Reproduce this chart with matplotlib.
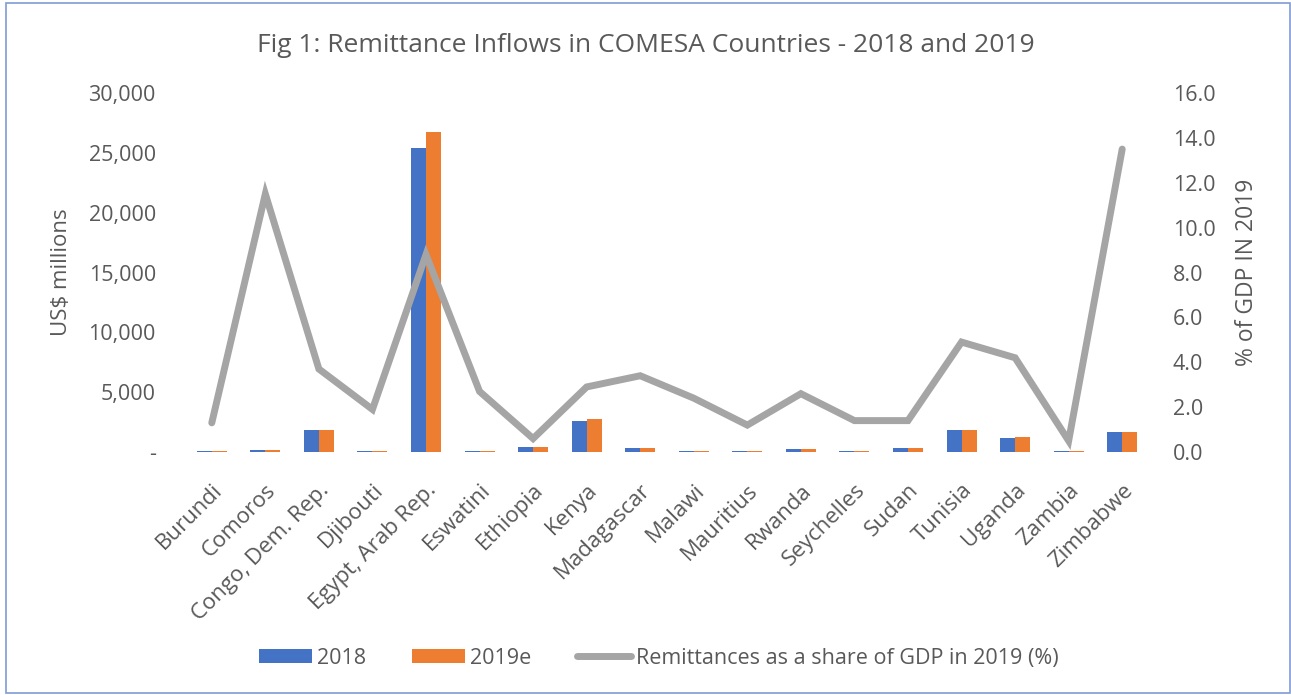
import matplotlib.pyplot as plt
import numpy as np
from matplotlib.patches import Rectangle

plt.rcParams['font.family'] = ['Open Sans', 'DejaVu Sans']

countries = ['Burundi', 'Comoros', 'Congo, Dem. Rep.', 'Djibouti', 'Egypt, Arab Rep.',
             'Eswatini', 'Ethiopia', 'Kenya', 'Madagascar', 'Malawi', 'Mauritius',
             'Rwanda', 'Seychelles', 'Sudan', 'Tunisia', 'Uganda', 'Zambia', 'Zimbabwe']
rem_2018 = [60, 130, 1800, 60, 25400, 100, 450, 2600, 350, 60, 60, 250, 60, 350, 1850, 1170, 80, 1700]
rem_2019 = [60, 130, 1800, 60, 26700, 100, 450, 2750, 350, 60, 60, 250, 60, 350, 1850, 1250, 80, 1700]
gdp_share = [1.3, 11.5, 3.7, 1.9, 8.8, 2.7, 0.6, 2.9, 3.4, 2.4, 1.2, 2.6, 1.4, 1.4, 4.9, 4.2, 0.5, 13.5]

txt = '#595959'
blue = '#4472C4'
orange = '#ED7D31'
grey = '#A5A5A5'

fig = plt.figure(figsize=(12.91, 6.95), dpi=100)
ax = fig.add_axes([0.1433, 0.3496, 0.7467, 0.5166])
ax2 = ax.twinx()

x = np.arange(len(countries))
w = 0.28
b1 = ax.bar(x - w/2, rem_2018, w, color=blue, label='2018', zorder=2)
b2 = ax.bar(x + w/2, rem_2019, w, color=orange, label='2019e', zorder=2)
ln, = ax2.plot(x, gdp_share, color=grey, lw=5, solid_joinstyle='miter',
               solid_capstyle='round', label='Remittances as a share of GDP in 2019 (%)')

ax.set_xlim(-0.5, len(countries) - 0.5)
ax.set_ylim(0, 30000)
ax2.set_ylim(0, 16)
ax.set_yticks(np.arange(0, 30001, 5000))
ax.set_yticklabels(['-'] + [f'{v:,}' for v in range(5000, 30001, 5000)])
ax2.set_yticks(np.arange(0, 16.1, 2))
ax2.set_yticklabels([f'{v:.1f}' for v in np.arange(0, 16.1, 2)])

ax.set_xticks(x)
ax.set_xticklabels(countries, rotation=45, ha='right', rotation_mode='anchor')

for a in (ax, ax2):
    for s in a.spines.values():
        s.set_visible(False)
    a.tick_params(length=0, colors=txt, labelsize=15.5)
ax.tick_params(axis='x', labelsize=16, pad=20)
ax.tick_params(axis='y', pad=21)
ax2.tick_params(axis='y', pad=17)

ax.set_ylabel('US$ millions', color=txt, fontsize=16, labelpad=12)
ax2.set_ylabel('% of GDP IN 2019', color=txt, fontsize=16.5, labelpad=14)

fig.text(0.5, 0.935, 'Fig 1: Remittance Inflows in COMESA Countries - 2018 and 2019',
         ha='center', va='center', color=txt, fontsize=19)

fig.legend(handles=[b1, b2, ln], loc='center', bbox_to_anchor=(0.51, 0.053), ncol=3,
           frameon=False, fontsize=15.5, labelcolor=txt, handlelength=2.5,
           handleheight=0.6, handletextpad=0.23, columnspacing=2.1)

fig.patches.append(Rectangle((0.005, 0.003), 0.994, 0.993, transform=fig.transFigure,
                             fill=False, edgecolor='#7F9CD6', lw=1.2))

fig.savefig('out.png', dpi=100)
